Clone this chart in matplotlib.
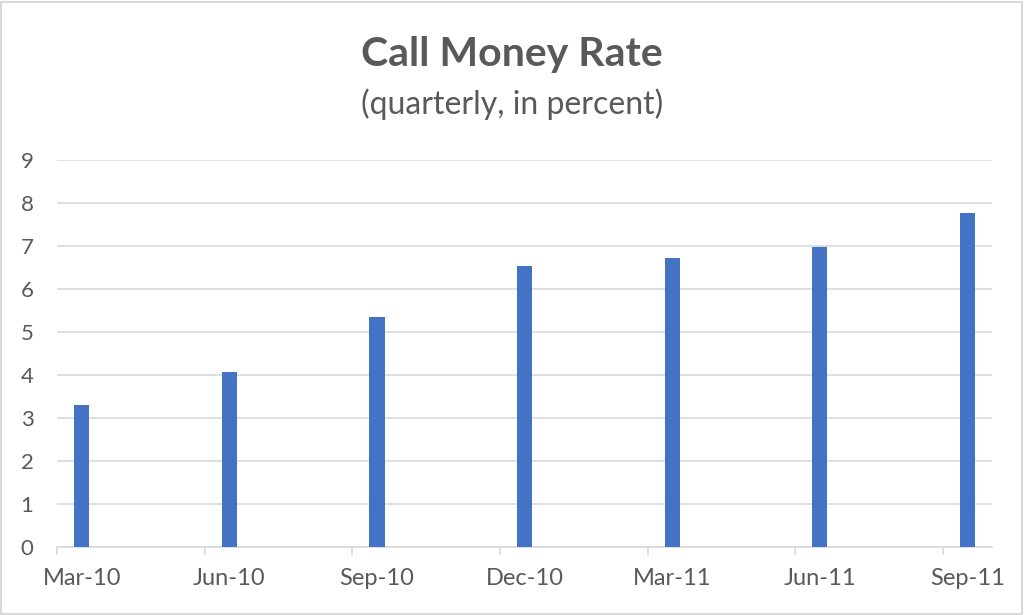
import matplotlib.pyplot as plt
from matplotlib.patches import Rectangle

# Quarterly call money rate (percent)
quarters = ['Mar-10', 'Jun-10', 'Sep-10', 'Dec-10', 'Mar-11', 'Jun-11', 'Sep-11']
rates = [3.31, 4.08, 5.34, 6.54, 6.73, 6.97, 7.77]

plt.rcParams['font.family'] = ['Lato', 'DejaVu Sans']
text_color = '#595959'
grid_color = '#D9D9D9'

fig = plt.figure(figsize=(10.24, 6.15), dpi=100)
fig.patches.append(Rectangle((0.001, 0.002), 0.997, 0.995, transform=fig.transFigure,
                             fill=False, edgecolor='#D9D9D9', linewidth=1.5))

ax = fig.add_axes([0.0557, 0.1106, 0.9131, 0.6292])

# date axis: one slot per month, tick marks at quarter boundaries,
# labels under the bars (middle of the month slot)
months = [i * 3 for i in range(len(quarters))]
centers = [m + 0.5 for m in months]
ax.bar(centers, rates, width=0.31, color='#4472C4', zorder=3)

ax.set_xlim(0, 19)
ax.set_ylim(0, 9)
ax.set_xticks(months)
ax.set_xticklabels([])
ax.set_xticks(centers, minor=True)
ax.set_xticklabels(quarters, minor=True)
ax.set_yticks(range(10))

ax.grid(axis='y', color=grid_color, linewidth=1.2, zorder=0)
for s in ['top', 'right', 'left']:
    ax.spines[s].set_visible(False)
ax.spines['bottom'].set_color(grid_color)
ax.spines['bottom'].set_linewidth(1.2)
ax.tick_params(axis='x', which='major', colors=grid_color, length=6, width=1.2)
ax.tick_params(axis='x', which='minor', length=0, labelcolor=text_color,
               labelsize=17, pad=15)
ax.tick_params(axis='y', length=0, labelcolor=text_color, labelsize=16, pad=17)

fig.text(0.5, 0.912, 'Call Money Rate', ha='center', va='center', fontsize=29.5,
         fontweight='bold', color=text_color)
fig.text(0.5, 0.83, '(quarterly, in percent)', ha='center', va='center', fontsize=23,
         color=text_color)

fig.savefig('out.png', dpi=100)
